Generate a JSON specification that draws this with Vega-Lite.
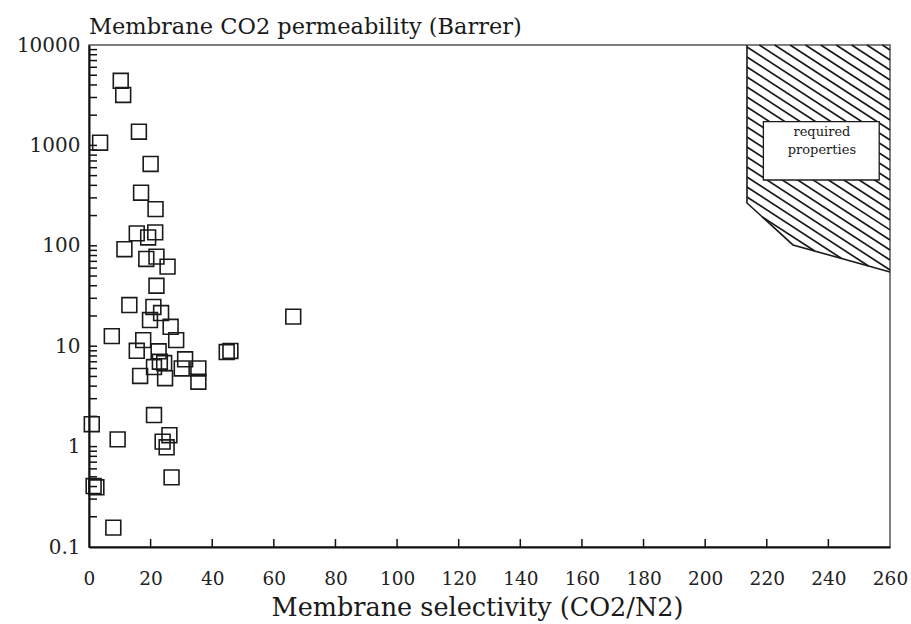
{
  "$schema": "https://vega.github.io/schema/vega-lite/v6.json",
  "width": 801,
  "height": 502,
  "autosize": {"type": "none"},
  "padding": {"left": 89, "top": 45, "right": 21, "bottom": 77},
  "background": "white",
  "config": {
    "view": {"stroke": "#555555", "strokeWidth": 1.5},
    "font": "DejaVu Serif"
  },
  "title": {
    "text": "Membrane CO2 permeability (Barrer)",
    "anchor": "start",
    "frame": "group",
    "font": "DejaVu Serif",
    "fontSize": 22.5,
    "fontWeight": "normal",
    "color": "#1a1a1a",
    "offset": -3
  },
  "datasets": {
    "points": [
      {"sel": 10.3, "perm": 4400}, {"sel": 11.1, "perm": 3180}, {"sel": 16.2, "perm": 1370},
      {"sel": 3.6, "perm": 1064}, {"sel": 20.0, "perm": 653}, {"sel": 16.9, "perm": 338},
      {"sel": 21.6, "perm": 232}, {"sel": 15.5, "perm": 133}, {"sel": 21.5, "perm": 136},
      {"sel": 19.2, "perm": 121}, {"sel": 11.5, "perm": 92.5}, {"sel": 18.6, "perm": 74},
      {"sel": 21.9, "perm": 78}, {"sel": 25.5, "perm": 62}, {"sel": 21.9, "perm": 40},
      {"sel": 13.1, "perm": 25.7}, {"sel": 20.9, "perm": 24.6}, {"sel": 23.4, "perm": 21.4},
      {"sel": 19.8, "perm": 18.2}, {"sel": 26.5, "perm": 15.6}, {"sel": 7.4, "perm": 12.6},
      {"sel": 17.6, "perm": 11.5}, {"sel": 28.3, "perm": 11.5}, {"sel": 15.5, "perm": 9.0},
      {"sel": 22.6, "perm": 8.9}, {"sel": 44.7, "perm": 8.75}, {"sel": 45.9, "perm": 8.96},
      {"sel": 66.3, "perm": 19.7}, {"sel": 31.2, "perm": 7.4}, {"sel": 23.0, "perm": 7.0},
      {"sel": 24.4, "perm": 6.8}, {"sel": 21.1, "perm": 6.2}, {"sel": 30.1, "perm": 6.0},
      {"sel": 35.5, "perm": 6.0}, {"sel": 16.6, "perm": 5.05}, {"sel": 24.7, "perm": 4.8},
      {"sel": 35.5, "perm": 4.43}, {"sel": 21.1, "perm": 2.06}, {"sel": 0.9, "perm": 1.67},
      {"sel": 9.3, "perm": 1.18}, {"sel": 26.1, "perm": 1.3}, {"sel": 23.9, "perm": 1.12},
      {"sel": 25.2, "perm": 0.984}, {"sel": 26.8, "perm": 0.494}, {"sel": 2.4, "perm": 0.393},
      {"sel": 1.5, "perm": 0.405}, {"sel": 7.9, "perm": 0.156}
    ],
    "hatch": [
      {"x1": 257.53, "y1": 10000, "x2": 260, "y2": 8916},
      {"x1": 252.53, "y1": 10000, "x2": 260, "y2": 7090},
      {"x1": 247.54, "y1": 10000, "x2": 260, "y2": 5636},
      {"x1": 242.54, "y1": 10000, "x2": 260, "y2": 4482},
      {"x1": 237.54, "y1": 10000, "x2": 260, "y2": 3563},
      {"x1": 232.57, "y1": 10000, "x2": 260, "y2": 2833},
      {"x1": 227.57, "y1": 10000, "x2": 260, "y2": 2252},
      {"x1": 222.57, "y1": 10000, "x2": 260, "y2": 1791},
      {"x1": 217.58, "y1": 10000, "x2": 260, "y2": 1424},
      {"x1": 213.58, "y1": 9552, "x2": 260, "y2": 1132},
      {"x1": 213.58, "y1": 7596, "x2": 260, "y2": 900},
      {"x1": 213.58, "y1": 6038, "x2": 260, "y2": 715},
      {"x1": 213.58, "y1": 4801, "x2": 260, "y2": 569},
      {"x1": 213.58, "y1": 3816, "x2": 260, "y2": 452},
      {"x1": 213.58, "y1": 3034, "x2": 260, "y2": 360},
      {"x1": 213.58, "y1": 2412, "x2": 260, "y2": 286},
      {"x1": 213.58, "y1": 1918, "x2": 260, "y2": 227},
      {"x1": 213.58, "y1": 1525, "x2": 260, "y2": 181},
      {"x1": 213.58, "y1": 1213, "x2": 260, "y2": 144},
      {"x1": 213.58, "y1": 964, "x2": 260, "y2": 114},
      {"x1": 213.58, "y1": 766, "x2": 260, "y2": 90.8},
      {"x1": 213.58, "y1": 609, "x2": 260, "y2": 72.2},
      {"x1": 213.58, "y1": 485, "x2": 260, "y2": 57.4},
      {"x1": 213.58, "y1": 385, "x2": 253.02, "y2": 62.9},
      {"x1": 213.58, "y1": 306, "x2": 244.29, "y2": 74.7},
      {"x1": 218.52, "y1": 194, "x2": 235.56, "y2": 88.8}
    ],
    "outline": [
      {"o": 0, "sel": 213.58, "perm": 10000},
      {"o": 1, "sel": 213.58, "perm": 267},
      {"o": 2, "sel": 228.5, "perm": 102},
      {"o": 3, "sel": 260, "perm": 54.8}
    ],
    "box": [{"x1": 218.9, "x2": 256.5, "y1": 1722, "y2": 452}],
    "labels": [
      {"sel": 237.9, "perm": 1369, "t": "required"},
      {"sel": 237.9, "perm": 900, "t": "properties"}
    ],
    "yticks": [
      {"v": 0.2}, {"v": 0.3}, {"v": 0.4}, {"v": 0.5}, {"v": 0.6}, {"v": 0.7}, {"v": 0.8}, {"v": 0.9},
      {"v": 1}, {"v": 2}, {"v": 3}, {"v": 4}, {"v": 5}, {"v": 6}, {"v": 7}, {"v": 8}, {"v": 9},
      {"v": 10}, {"v": 20}, {"v": 30}, {"v": 40}, {"v": 50}, {"v": 60}, {"v": 70}, {"v": 80}, {"v": 90},
      {"v": 100}, {"v": 200}, {"v": 300}, {"v": 400}, {"v": 500}, {"v": 600}, {"v": 700}, {"v": 800}, {"v": 900},
      {"v": 1000}, {"v": 2000}, {"v": 3000}, {"v": 4000}, {"v": 5000}, {"v": 6000}, {"v": 7000}, {"v": 8000}, {"v": 9000}
    ],
    "xticks": [
      {"v": 20}, {"v": 40}, {"v": 60}, {"v": 80}, {"v": 100}, {"v": 120},
      {"v": 140}, {"v": 160}, {"v": 180}, {"v": 200}, {"v": 220}, {"v": 240}
    ]
  },
  "layer": [
    {
      "data": {"name": "hatch"},
      "mark": {"type": "rule", "color": "#1a1a1a", "strokeWidth": 1.7},
      "encoding": {
        "x": {"field": "x1", "type": "quantitative", "scale": {"domain": [0, 260], "nice": false, "zero": false},
          "axis": {
            "values": [0, 20, 40, 60, 80, 100, 120, 140, 160, 180, 200, 220, 240, 260],
            "title": "Membrane selectivity (CO2/N2)",
            "zindex": 1,
            "grid": false,
            "ticks": false,
            "labelPadding": 22,
            "labelFlush": false,
            "labelOverlap": false,
            "labelFont": "DejaVu Serif",
            "labelFontSize": 18.5,
            "labelColor": "#222222",
            "titleFont": "DejaVu Serif",
            "titleFontSize": 25.5,
            "titleFontWeight": "normal",
            "titleColor": "#1a1a1a",
            "titlePadding": 8,
            "titleX": 388,
            "domainColor": "#111111",
            "domainWidth": 2
          }
        },
        "x2": {"field": "x2"},
        "y": {"field": "y1", "type": "quantitative",
          "scale": {"type": "log", "domain": [0.1, 10000], "nice": false},
          "axis": {
            "values": [0.1, 1, 10, 100, 1000, 10000],
            "format": "~g",
            "title": null,
            "zindex": 1,
            "grid": false,
            "ticks": false,
            "labelPadding": 9,
            "labelOverlap": false,
            "labelFlush": false,
            "labelFont": "DejaVu Serif",
            "labelFontSize": 20,
            "labelColor": "#222222",
            "domainColor": "#111111",
            "domainWidth": 2
          }
        },
        "y2": {"field": "y2"}
      }
    },
    {
      "data": {"name": "yticks"},
      "mark": {"type": "rule", "color": "#111111", "strokeWidth": 1.5},
      "encoding": {
        "x": {"datum": 0, "type": "quantitative"},
        "x2": {"datum": 2.6},
        "y": {"field": "v", "type": "quantitative"}
      }
    },
    {
      "data": {"name": "xticks"},
      "mark": {"type": "rule", "color": "#111111", "strokeWidth": 1.5},
      "encoding": {
        "x": {"field": "v", "type": "quantitative"},
        "y": {"datum": 0.1, "type": "quantitative"},
        "y2": {"datum": 0.12}
      }
    },
    {
      "data": {"name": "outline"},
      "mark": {"type": "line", "color": "#1a1a1a", "strokeWidth": 1.6},
      "encoding": {
        "x": {"field": "sel", "type": "quantitative"},
        "y": {"field": "perm", "type": "quantitative"},
        "order": {"field": "o", "type": "quantitative"}
      }
    },
    {
      "data": {"name": "box"},
      "mark": {"type": "rect", "fill": "white", "stroke": "#1a1a1a", "strokeWidth": 1.3},
      "encoding": {
        "x": {"field": "x1", "type": "quantitative"},
        "x2": {"field": "x2"},
        "y": {"field": "y1", "type": "quantitative"},
        "y2": {"field": "y2"}
      }
    },
    {
      "data": {"name": "labels"},
      "mark": {"type": "text", "font": "DejaVu Serif", "fontSize": 13, "color": "#1a1a1a", "align": "center", "baseline": "middle"},
      "encoding": {
        "x": {"field": "sel", "type": "quantitative"},
        "y": {"field": "perm", "type": "quantitative"},
        "text": {"field": "t"}
      }
    },
    {
      "data": {"name": "points"},
      "mark": {"type": "point", "shape": "square", "filled": false, "size": 220, "stroke": "#1a1a1a", "strokeWidth": 1.6, "opacity": 1},
      "encoding": {
        "x": {"field": "sel", "type": "quantitative"},
        "y": {"field": "perm", "type": "quantitative"}
      }
    }
  ]
}
